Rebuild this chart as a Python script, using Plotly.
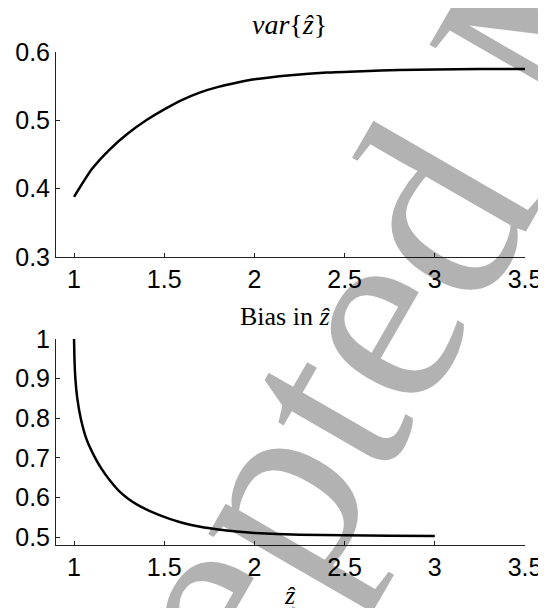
import plotly.graph_objects as go
from plotly.subplots import make_subplots

# top panel: variance of z-hat
var_x = [1.0, 1.1, 1.2, 1.3, 1.4, 1.5, 1.6, 1.7, 1.8, 1.9, 2.0, 2.2, 2.4, 2.6, 2.8, 3.0, 3.25, 3.5]
var_y = [0.388, 0.429, 0.458, 0.481, 0.500, 0.516, 0.530, 0.541, 0.549, 0.555, 0.560,
         0.566, 0.570, 0.572, 0.5735, 0.5745, 0.575, 0.575]

# bottom panel: bias in z-hat
bias_x = [1.0, 1.002, 1.0074, 1.018, 1.037, 1.07, 1.117, 1.15, 1.2, 1.25, 1.3, 1.35, 1.4,
          1.45, 1.5, 1.6, 1.7, 1.8, 1.9, 2.0, 2.25, 2.5, 2.75, 3.0]
bias_y = [1.0, 0.955, 0.9, 0.85, 0.8, 0.746, 0.7, 0.674, 0.642, 0.616, 0.597, 0.582, 0.570,
          0.560, 0.551, 0.536, 0.526, 0.519, 0.514, 0.5105, 0.506, 0.5043, 0.5033, 0.5027]

x_ticks = [1, 1.5, 2, 2.5, 3, 3.5]
var_ticks = [0.3, 0.4, 0.5, 0.6]
bias_ticks = [0.5, 0.6, 0.7, 0.8, 0.9, 1.0]

# page has an 8px body margin, so the figure sits at (8, 8)
OFF = 8
W, H = 546 - OFF, 608 - OFF
ml, mr, mt, mb = 56 - OFF, 21, 52 - OFF, 63
ph = H - mt - mb

fig = make_subplots(rows=2, cols=1)

fig.add_trace(go.Scatter(x=var_x, y=var_y, mode='lines', line=dict(color='black', width=2.5, shape='spline', smoothing=0.6),
                         showlegend=False), row=1, col=1)
fig.add_trace(go.Scatter(x=bias_x, y=bias_y, mode='lines', line=dict(color='black', width=2.5, shape='spline', smoothing=0.5),
                         showlegend=False), row=2, col=1)

axis_style = dict(showline=True, linecolor='#222', linewidth=1, ticks='inside', ticklen=4,
                  tickcolor='#222', showgrid=False, zeroline=False, mirror=False, automargin=False,
                  tickfont=dict(family='Liberation Sans', size=25, color='black'))

fig.update_xaxes(range=[0.9, 3.5], tickvals=x_ticks, ticktext=[str(v) for v in x_ticks], **axis_style)
fig.update_yaxes(**axis_style)
fig.update_yaxes(range=[0.3, 0.6], tickvals=var_ticks, ticktext=['0.3', '0.4', '0.5', '0.6'],
                 domain=[(H - mb - (257 - OFF)) / ph, 1], row=1, col=1)
fig.update_yaxes(range=[0.48, 1.0], tickvals=bias_ticks, ticktext=['0.5', '0.6', '0.7', '0.8', '0.9', '1'],
                 domain=[0, (H - mb - (339 - OFF)) / ph], row=2, col=1)


def py(pix):
    return (H - mb - (pix - OFF)) / ph


def px(pix):
    return (pix - OFF - ml) / (W - ml - mr)


annos = [
    dict(text='<i>var</i>{<i>ẑ</i>}', x=px(289), y=py(25), size=28),
    dict(text='Bias in <i>ẑ</i>', x=px(285), y=py(316), size=26),
    dict(text='<i>ẑ</i>', x=px(290), y=py(595), size=26),
]
for a in annos:
    fig.add_annotation(xref='paper', yref='paper', showarrow=False,
                       font=dict(family='Liberation Serif', size=a['size'], color='black'),
                       xanchor='center', yanchor='middle', text=a['text'], x=a['x'], y=a['y'])

# watermark
fig.add_annotation(xref='paper', yref='paper', x=px(536), y=py(32), showarrow=False,
                   xanchor='center', yanchor='middle',
                   text='Accepted Manuscript', textangle=-60,
                   font=dict(family='Liberation Serif', size=270, color='rgba(0,0,0,0.3)'))

fig.update_layout(width=W, height=H, margin=dict(l=ml, r=mr, t=mt, b=mb),
                  plot_bgcolor='white', paper_bgcolor='white')

fig.write_html("out.html")
